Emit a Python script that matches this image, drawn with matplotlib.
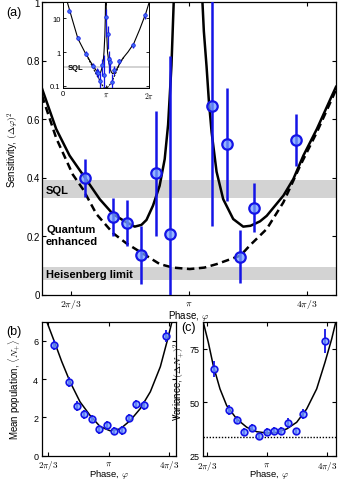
import numpy as np
import matplotlib
matplotlib.use("Agg")
import matplotlib.pyplot as plt

plt.rcParams['font.family'] = ['Liberation Sans', 'DejaVu Sans']
plt.rcParams['mathtext.fontset'] = 'cm'
plt.rcParams['axes.linewidth'] = 0.9

PI = np.pi

# ---------------- panel (a) data ----------------
phi_a = [2.217, 2.467, 2.595, 2.720, 2.848, 2.972, 3.344, 3.477, 3.596, 3.721, 4.095]
sens_a = [0.398, 0.266, 0.244, 0.135, 0.414, 0.206, 0.643, 0.513, 0.129, 0.296, 0.528]
sens_err = [0.065, 0.065, 0.078, 0.100, 0.215, 0.610, 0.410, 0.192, 0.090, 0.084, 0.088]

# extra points only visible in the inset
phi_far = [0.44, 1.11, 1.73, 3.17, 3.30, 5.13, 5.99]
sens_far = [16.8, 2.65, 0.90, 10.7, 3.5, 1.57, 12.0]
sens_far_err = [2.0, 0.4, 0.15, 8.0, 2.3, 0.25, 2.5]

# theory, solid (left and right branches)
th_left_phi = [1.837, 1.962, 2.081, 2.215, 2.349, 2.467, 2.586, 2.66, 2.72, 2.765,
               2.823, 2.882, 2.927, 2.957, 2.987, 3.008, 3.07, 3.10, 3.12, 3.13]
th_left_val = [0.703, 0.566, 0.475, 0.401, 0.326, 0.275, 0.247, 0.232, 0.238, 0.255,
               0.304, 0.372, 0.463, 0.58, 0.782, 1.01, 3.2, 9.3, 34, 110]
th_right_phi = [3.15, 3.16, 3.18, 3.21, 3.26, 3.275, 3.299, 3.32, 3.344, 3.388, 3.447,
                3.536, 3.625, 3.69, 3.774, 3.834, 3.982, 4.071, 4.16, 4.28, 4.40, 4.45]
th_right_val = [110, 34, 9.3, 3.2, 1.02, 0.90, 0.78, 0.66, 0.555, 0.42, 0.326,
                0.258, 0.232, 0.235, 0.25, 0.269, 0.338, 0.395, 0.475, 0.566, 0.668, 0.71]
# theory, dashed (ideal)
ideal_phi = [1.836, 1.962, 2.11, 2.2, 2.32, 2.467, 2.586, 2.72, 2.883, 3.0, 3.15,
             3.28, 3.39, 3.6, 3.69, 3.834, 3.982, 4.131, 4.28, 4.40, 4.45]
ideal_val = [0.68, 0.535, 0.41, 0.36, 0.275, 0.21, 0.175, 0.143, 0.104, 0.092, 0.087,
             0.092, 0.104, 0.133, 0.17, 0.224, 0.315, 0.44, 0.555, 0.657, 0.70]
# theory outside the main window (inset only)
out_left_phi = [0.20, 0.37, 0.717, 1.109, 1.73]
out_left_val = [45, 26.5, 8.6, 2.48, 0.80]
out_right_phi = [4.75, 5.17, 5.6, 6.04, 6.28]
out_right_val = [1.0, 1.77, 4.6, 13.5, 28]

sql_band = (0.33, 0.39)
hl_band = (0.05, 0.095)

# ---------------- panel (b) data ----------------
phi_b = [2.199, 2.461, 2.590, 2.723, 2.851, 2.979, 3.113, 3.241, 3.375, 3.497, 3.625, 3.753, 4.137]
N_b = [5.79, 3.86, 2.60, 2.16, 1.93, 1.37, 1.58, 1.28, 1.32, 1.97, 2.68, 2.63, 6.26]
N_err = [0.28, 0.25, 0.25, 0.22, 0.22, 0.22, 0.22, 0.22, 0.22, 0.22, 0.25, 0.25, 0.30]
fit_b_phi = [2.03, 2.066, 2.199, 2.328, 2.473, 2.647, 2.822, 2.996, 3.171, 3.346, 3.52,
             3.694, 3.869, 4.043, 4.16, 4.247, 4.30]
fit_b_val = [7.6, 7.02, 5.97, 4.92, 3.86, 2.81, 2.1, 1.52, 1.30, 1.40, 1.84,
             2.46, 3.34, 4.65, 5.97, 7.02, 7.8]

# ---------------- panel (c) data ----------------
phi_c = [2.221, 2.483, 2.612, 2.740, 2.874, 3.002, 3.136, 3.263, 3.391, 3.513, 3.642, 3.775, 4.153]
V_c = [65.5, 46.5, 41.7, 36.2, 37.9, 34.1, 36.2, 36.5, 36.5, 40.3, 36.5, 44.5, 78.5]
V_err = [3.9, 2.3, 1.9, 1.6, 1.9, 1.6, 1.9, 1.9, 1.9, 2.2, 1.6, 2.3, 5.6]
fit_c_phi = [2.03, 2.117, 2.204, 2.321, 2.438, 2.612, 2.787, 2.961, 3.136, 3.31, 3.485,
             3.659, 3.833, 4.008, 4.153, 4.27, 4.34]
fit_c_val = [87.3, 78, 67.1, 56.2, 48.4, 42.2, 38.3, 36.2, 35.6, 35.9, 37.5,
             40.6, 46.8, 56.2, 68.6, 79.5, 87.3]
shot_noise = 33.5

BLUE = '#1414e6'
FACE = (0.45, 0.62, 1.0, 0.75)

phase_ticks = [2 * PI / 3, PI, 4 * PI / 3]
phase_labels = [r'$2\pi/3$', r'$\pi$', r'$4\pi/3$']

W, H = 339, 481
fig = plt.figure(figsize=(W / 100, H / 100), dpi=100)


def ax_px(left, top, right, bottom):
    return fig.add_axes([left / W, 1 - bottom / H, (right - left) / W, (bottom - top) / H])


def style(ax, fs=7):
    ax.tick_params(direction='in', top=True, right=True, length=3, width=0.8,
                   labelsize=fs, pad=1.5)


# ================= panel (a) =================
ax = ax_px(42, 3, 336, 295.5)
ax.axhspan(*sql_band, color='#d3d3d3', lw=0, zorder=0)
ax.axhspan(*hl_band, color='#d3d3d3', lw=0, zorder=0)
ax.plot(th_left_phi, th_left_val, color='k', lw=1.8, zorder=2)
ax.plot(th_right_phi, th_right_val, color='k', lw=1.8, zorder=2)
ax.plot(ideal_phi, ideal_val, color='k', lw=1.8, ls=(0, (3, 1.8)), zorder=2)
ax.errorbar(phi_a, sens_a, yerr=sens_err, fmt='none', ecolor=BLUE, elinewidth=1.8,
            capsize=0, zorder=3)
ax.plot(phi_a, sens_a, 'o', ms=7.5, mec=BLUE, mfc=FACE, mew=1.6, zorder=4)
ax.set_xlim(1.836, 4.45)
ax.set_ylim(0, 1)
ax.set_xticks(phase_ticks)
ax.set_xticklabels(phase_labels)
ax.set_yticks([0, 0.2, 0.4, 0.6, 0.8, 1])
ax.set_yticklabels(['0', '0.2', '0.4', '0.6', '0.8', '1'])
style(ax)
ax.set_xlabel(r'Phase, $\varphi$', fontsize=7)
ax.xaxis.set_label_coords(0.5, -0.045)
ax.set_ylabel(r'Sensitivity, $(\Delta\varphi)^2$', fontsize=7)
ax.yaxis.set_label_coords(-0.07, 0.5)
tkw = dict(fontsize=8, fontweight='bold', ha='left', va='center', zorder=5)
ax.text(1.872, 0.356, 'SQL', **tkw)
ax.text(1.872, 0.203, 'Quantum\nenhanced', linespacing=1.25, **tkw)
ax.text(1.872, 0.071, 'Heisenberg limit', **tkw)
fig.text(13.5 / W, 1 - 13 / H, '(a)', fontsize=9, ha='center', va='center')

# ---- inset ----
ins = ax_px(62.7, 3, 149, 89.3)
ins.set_yscale('log')
ins.axhspan(*sql_band, color='#d3d3d3', lw=0, zorder=0)
ins.axhspan(0.01, hl_band[1], color='#d3d3d3', lw=0, zorder=0)
ins.plot(out_left_phi + th_left_phi, out_left_val + th_left_val, color='k', lw=0.8)
ins.plot(th_right_phi + out_right_phi, th_right_val + out_right_val, color='k', lw=0.8)
ins.plot(ideal_phi, ideal_val, color='k', lw=0.8, ls=(0, (2, 1)))
all_phi = phi_far + phi_a
all_val = sens_far + sens_a
all_err = sens_far_err + sens_err
lo = [min(e, v - 0.01) for v, e in zip(all_val, all_err)]
ins.errorbar(all_phi, all_val, yerr=[lo, all_err], fmt='none', ecolor=BLUE,
             elinewidth=0.9, capsize=0)
ins.plot(all_phi, all_val, 'o', ms=2.6, color=BLUE, mec=BLUE, mfc='#3d6cf5', mew=0.5)
ins.set_xlim(0, 2 * PI)
ins.set_ylim(0.085, 30)
ins.set_xticks([0, PI, 2 * PI])
ins.set_xticklabels(['0', r'$\pi$', r'$2\pi$'])
ins.set_yticks([0.1, 1, 10])
ins.set_yticklabels(['0.1', '1', '10'])
ins.yaxis.set_minor_locator(matplotlib.ticker.NullLocator())
ins.tick_params(direction='in', top=True, right=True, length=2, width=0.6,
                labelsize=5.5, pad=1.5)
for s in ins.spines.values():
    s.set_linewidth(0.7)
ins.text(0.35, 0.36, 'SQL', fontsize=5.5, fontweight='bold', ha='left', va='center')

# ================= panel (b) =================
axb = ax_px(41.7, 322.7, 175.7, 456.7)
axb.plot(fit_b_phi, fit_b_val, color='k', lw=1.1, zorder=2)
axb.errorbar(phi_b, N_b, yerr=N_err, fmt='none', ecolor=BLUE, elinewidth=1.3,
             capsize=0, zorder=3)
axb.plot(phi_b, N_b, 'o', ms=4.8, mec=BLUE, mfc=FACE, mew=1.2, zorder=4)
axb.set_xlim(1.98, 4.31)
axb.set_ylim(0, 7)
axb.set_xticks(phase_ticks)
axb.set_xticklabels(phase_labels)
axb.set_yticks([0, 2, 4, 6])
style(axb, 6.5)
axb.tick_params(axis='y', pad=2.5)
axb.set_xlabel(r'Phase, $\varphi$', fontsize=6.8)
axb.xaxis.set_label_coords(0.5, -0.085)
axb.set_ylabel(r'Mean population, $\langle N_{+}\rangle$', fontsize=7)
axb.yaxis.set_label_coords(-0.14, 0.5)
fig.text(13.5 / W, 1 - 332 / H, '(b)', fontsize=9, ha='center', va='center')

# ================= panel (c) =================
axc = ax_px(203.3, 323.3, 335.7, 456.7)
axc.axhline(shot_noise, color='k', lw=1.0, ls=(0, (1, 1.2)), zorder=1)
axc.plot(fit_c_phi, fit_c_val, color='k', lw=1.1, zorder=2)
axc.errorbar(phi_c, V_c, yerr=V_err, fmt='none', ecolor=BLUE, elinewidth=1.3,
             capsize=0, zorder=3)
axc.plot(phi_c, V_c, 'o', ms=4.8, mec=BLUE, mfc=FACE, mew=1.2, zorder=4)
axc.set_xlim(2.03, 4.34)
axc.set_ylim(25, 87.3)
axc.set_xticks(phase_ticks)
axc.set_xticklabels(phase_labels)
axc.set_yticks([25, 50, 75])
style(axc, 6.5)
axc.tick_params(axis='y', pad=2.5)
axc.tick_params(axis='x', pad=2.5)
axc.set_xlabel(r'Phase, $\varphi$', fontsize=6.8)
axc.xaxis.set_label_coords(0.5, -0.085)
axc.set_ylabel(r'Variance, $(\Delta N_{+})^2$', fontsize=7)
axc.yaxis.set_label_coords(-0.125, 0.56)
fig.text(188 / W, 1 - 328 / H, '(c)', fontsize=9, ha='center', va='center')

fig.savefig('out.png', dpi=100)
